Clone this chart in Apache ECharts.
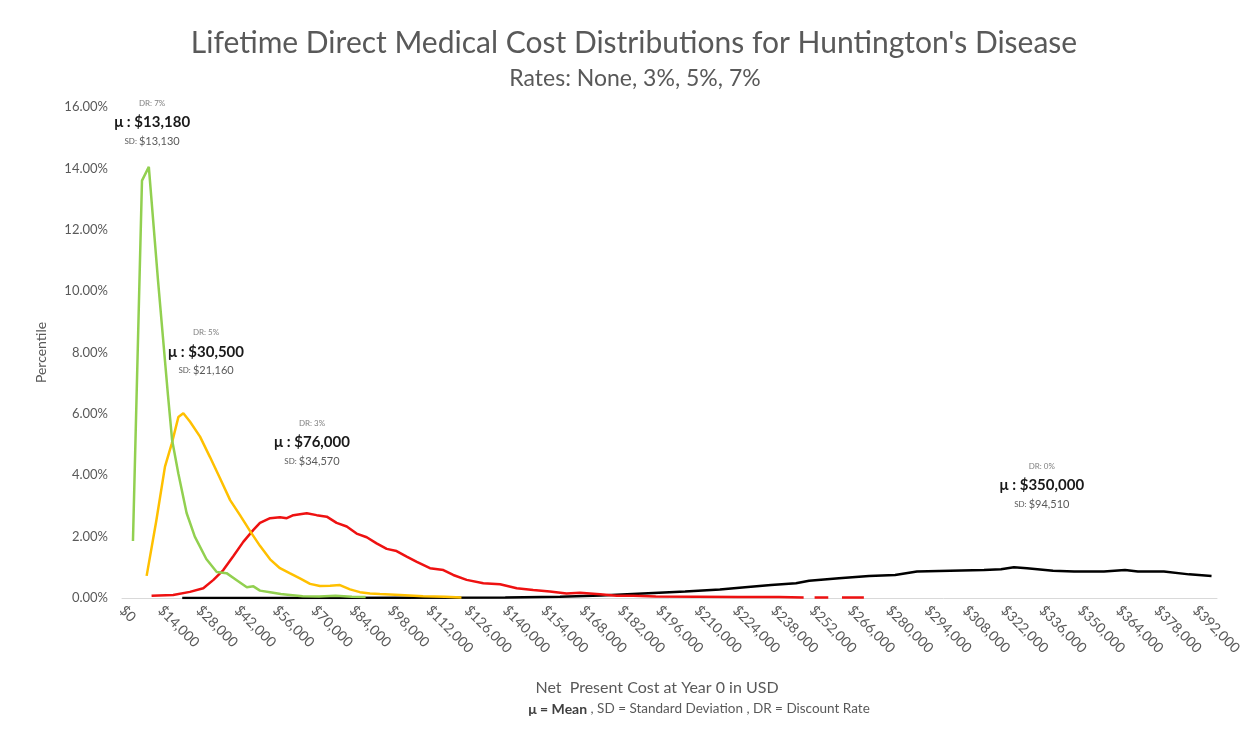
<!DOCTYPE html>
<html>
<head>
<meta charset="utf-8">
<title>Lifetime Direct Medical Cost Distributions</title>
<script src="https://cdn.jsdelivr.net/npm/echarts@6/dist/echarts.min.js"></script>
<style>
  html, body { margin: 0; padding: 0; background: #fff; }
  #chart { width: 1250px; height: 740px; }
</style>
</head>
<body>
<div id="chart"></div>
<script>
// cost in USD, share in percent
const greenX = [4000, 7300, 9800, 13200, 16800, 18300, 20600, 23600, 26600, 30800, 34600, 38200, 41900, 45600, 48000, 50400, 54100, 58000, 61400, 66000, 72000, 78000, 84000, 89000];
const greenY = [1.86, 13.6, 14.05, 10.3, 6.6, 5.15, 4.05, 2.77, 2.0, 1.27, 0.85, 0.81, 0.58, 0.35, 0.38, 0.24, 0.19, 0.13, 0.1, 0.06, 0.05, 0.07, 0.04, 0.03];

const yellowX = [9000, 12500, 15700, 18200, 20600, 22400, 24800, 28500, 32100, 35800, 39500, 43100, 46800, 50400, 54100, 57700, 61400, 65000, 68700, 72300, 76000, 79600, 83300, 86900, 90600, 94200, 101600, 110000, 118000, 124000];
const yellowY = [0.72, 2.5, 4.28, 5.04, 5.9, 6.02, 5.75, 5.26, 4.6, 3.9, 3.19, 2.7, 2.18, 1.7, 1.26, 0.97, 0.8, 0.64, 0.46, 0.39, 0.4, 0.42, 0.28, 0.19, 0.15, 0.13, 0.1, 0.06, 0.04, 0.02];

const redX = [10800, 18700, 24800, 29700, 33400, 37000, 40700, 44300, 48000, 50400, 54100, 57700, 60200, 62600, 65000, 67500, 71100, 74800, 78400, 82100, 85700, 89400, 93000, 96700, 100300, 104000, 107700, 112500, 117400, 121000, 125900, 132000, 138100, 144200, 150200, 156300, 162400, 167300, 174600, 180700, 186800, 195000, 210000, 225000, 240000, 249000, 251000, 253000, 258000, 260000, 263000, 271000];
const redY = [0.07, 0.1, 0.2, 0.32, 0.59, 0.91, 1.37, 1.83, 2.22, 2.45, 2.6, 2.63, 2.6, 2.7, 2.73, 2.76, 2.7, 2.65, 2.45, 2.33, 2.1, 1.98, 1.78, 1.6, 1.53, 1.35, 1.18, 0.97, 0.91, 0.75, 0.59, 0.48, 0.45, 0.32, 0.26, 0.21, 0.15, 0.17, 0.12, 0.07, 0.07, 0.05, 0.04, 0.03, 0.03, 0.02, null, 0.02, 0.02, null, 0.02, 0.02];

const blackX = [22000, 60000, 100000, 140000, 160000, 175000, 190300, 205700, 218400, 227600, 237100, 246200, 251000, 261900, 272900, 282400, 290400, 302500, 314900, 321100, 325800, 330600, 340100, 347800, 358700, 366400, 371100, 380600, 389800, 398000];
const blackY = [0, 0, 0.01, 0.02, 0.04, 0.08, 0.15, 0.21, 0.28, 0.35, 0.42, 0.48, 0.56, 0.64, 0.72, 0.75, 0.86, 0.89, 0.91, 0.94, 1.0, 0.97, 0.89, 0.86, 0.86, 0.91, 0.86, 0.86, 0.77, 0.72];

// annotation text per curve: discount rate, mean, SD, and where it sits
const rates = ['0%', '3%', '5%', '7%'];
const means = ['$350,000', '$76,000', '$30,500', '$13,180'];
const sds = ['$94,510', '$34,570', '$21,160', '$13,130'];
const noteX = [336000, 69400, 30700, 11000];
const noteY = [3.68, 5.08, 8.02, 15.5];

const colors = ['#000000', '#ee1111', '#ffc000', '#92d050'];
const xsList = [blackX, redX, yellowX, greenX];
const ysList = [blackY, redY, yellowY, greenY];

const font = 'Lato, "Open Sans", sans-serif';
const grey = '#595959';

function money(v) {
  return '$' + String(v).replace(/\B(?=(\d{3})+(?!\d))/g, ',');
}

const chart = echarts.init(document.getElementById('chart'));

const series = xsList.map((xs, i) => ({
  type: 'line',
  data: xs.map((x, j) => [x, ysList[i][j]]),
  showSymbol: false,
  connectNulls: false,
  lineStyle: { color: colors[i], width: 2.5 },
  itemStyle: { color: colors[i] },
  z: 2 + i,
  markPoint: {
    symbol: 'circle',
    symbolSize: 1,
    itemStyle: { color: 'rgba(0,0,0,0)' },
    label: {
      show: true,
      position: 'inside',
      fontFamily: font,
      formatter: '{dr|DR: ' + rates[i] + '}\n{mu|\u03bc : ' + means[i] + '}\n{sdk|SD: }{sd|' + sds[i] + '}',
      rich: {
        dr: { fontSize: 8, color: '#808080', lineHeight: 19, fontFamily: font },
        mu: { fontSize: 15, fontWeight: 'bold', color: '#1a1a1a', lineHeight: 19, fontFamily: font },
        sdk: { fontSize: 8, color: grey, lineHeight: 19, fontFamily: font },
        sd: { fontSize: 11, color: grey, lineHeight: 19, fontFamily: font }
      }
    },
    data: [{ coord: [noteX[i], noteY[i]] }]
  }
}));

const option = {
  animation: false,
  backgroundColor: '#fff',
  title: [
    {
      text: "Lifetime Direct Medical Cost Distributions for Huntington's Disease",
      left: 629, top: 23, textAlign: 'center',
      textStyle: { fontFamily: font, fontSize: 30, fontWeight: 'normal', color: grey }
    },
    {
      text: 'Rates: None, 3%, 5%, 7%',
      left: 630, top: 62, textAlign: 'center',
      textStyle: { fontFamily: font, fontSize: 23, fontWeight: 'normal', color: grey }
    }
  ],
  grid: { left: 122, right: 33, top: 107, bottom: 142 },
  xAxis: {
    type: 'value',
    min: 0,
    max: 400000,
    interval: 14000,
    axisLine: { lineStyle: { color: '#d9d9d9', width: 1 } },
    axisTick: { show: false },
    splitLine: { show: false },
    axisLabel: {
      rotate: -45,
      margin: 10,
      showMaxLabel: false,
      color: grey,
      fontFamily: font,
      fontSize: 14,
      formatter: money
    }
  },
  yAxis: {
    type: 'value',
    min: 0,
    max: 16,
    interval: 2,
    name: 'Percentile',
    nameLocation: 'middle',
    nameGap: 74,
    nameTextStyle: { color: grey, fontFamily: font, fontSize: 14 },
    axisLine: { show: false },
    axisTick: { show: false },
    splitLine: { show: false },
    axisLabel: {
      margin: 14,
      color: grey,
      fontFamily: font,
      fontSize: 13,
      formatter: v => v.toFixed(2) + '%'
    }
  },
  graphic: [
    {
      type: 'text',
      x: 657, y: 688,
      style: {
        text: 'Net  Present Cost at Year 0 in USD',
        align: 'center', verticalAlign: 'middle',
        fill: grey, font: '16px ' + font
      }
    },
    {
      type: 'text',
      x: 699, y: 709,
      style: {
        text: '{b|\u03bc = Mean} , SD = Standard Deviation , DR = Discount Rate',
        align: 'center', verticalAlign: 'middle',
        fill: grey, font: '13.5px ' + font,
        rich: {
          b: { fontWeight: 'bold', fill: '#404040', fontSize: 14, fontFamily: font }
        }
      }
    }
  ],
  series: series
};

chart.setOption(option);
</script>
</body>
</html>
